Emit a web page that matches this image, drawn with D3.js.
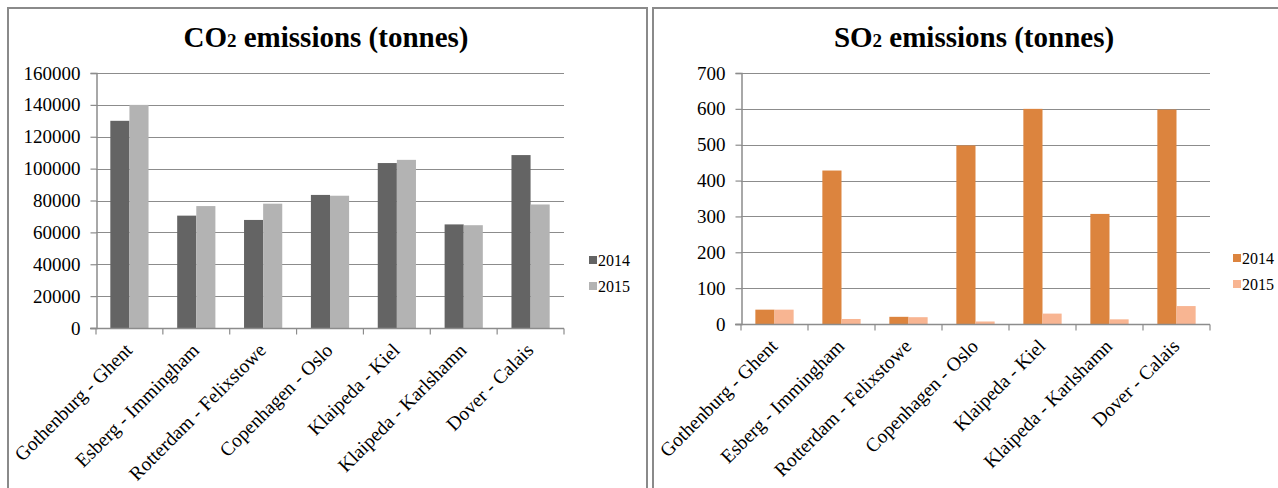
<!DOCTYPE html>
<html>
<head>
<meta charset="utf-8">
<script src="https://cdn.jsdelivr.net/npm/d3@7/dist/d3.min.js"></script>
<style>
  html, body { margin: 0; padding: 0; background: #ffffff; }
  svg { display: block; }
  text { font-family: "Liberation Serif", "Times New Roman", serif; fill: #000; }
</style>
</head>
<body>
<svg id="chart" width="1278" height="488"></svg>
<script>
// Ferry routes shown on both charts
const routes = [
  "Gothenburg - Ghent",
  "Esberg - Immingham",
  "Rotterdam - Felixstowe",
  "Copenhagen - Oslo",
  "Klaipeda - Kiel",
  "Klaipeda - Karlshamn",
  "Dover - Calais"
];
const years = ["2014", "2015"];

// CO2 emissions per route (tonnes)
const co2_2014 = [130000, 70500, 67800, 83500, 103500, 65000, 108500];
const co2_2015 = [140000, 76500, 78000, 83000, 105500, 64500, 77500];
const co2Ticks = [0, 20000, 40000, 60000, 80000, 100000, 120000, 140000, 160000];

// SO2 emissions per route (tonnes)
const so2_2014 = [40, 428, 20, 498, 600, 307, 598];
const so2_2015 = [40, 14, 19, 7, 29, 13, 50];
const so2Ticks = [0, 100, 200, 300, 400, 500, 600, 700];

const svg = d3.select("#chart");
const axisGrey = "#8c8c8c";

function drawPanel(opt) {
  const g = svg.append("g");

  // panel frame (runs off the bottom of the page)
  g.append("path")
    .attr("d", `M${opt.frameX0},${opt.frameY + 600}V${opt.frameY}H${opt.frameX1}V${opt.frameY + 600}`)
    .attr("fill", "none")
    .attr("stroke", "#8a8a8a")
    .attr("stroke-width", 2);

  // title with subscript digit
  const title = g.append("text")
    .attr("x", opt.titleX)
    .attr("y", 47)
    .attr("text-anchor", "middle")
    .style("font-size", "29px")
    .style("font-weight", "bold");
  title.append("tspan").text(opt.gas);
  title.append("tspan").style("font-size", "19px").text("2");
  title.append("tspan").text(" emissions (tonnes)");

  const x0 = d3.scaleBand().domain(routes).range([opt.left, opt.right]).paddingInner(0).paddingOuter(0);
  const x1 = d3.scaleBand().domain(years).range([0, x0.bandwidth()]).paddingOuter(0.75).paddingInner(0);
  const y = d3.scaleLinear().domain([0, opt.max]).range([opt.bottom, opt.top]);

  // horizontal gridlines
  g.append("g")
    .selectAll("line")
    .data(opt.ticks.slice(1))
    .join("line")
    .attr("x1", opt.left)
    .attr("x2", opt.right)
    .attr("y1", d => Math.round(y(d)) + 0.5)
    .attr("y2", d => Math.round(y(d)) + 0.5)
    .attr("stroke", axisGrey)
    .attr("stroke-width", 1.2);

  // bars
  const series = years.map((yr, i) => ({ yr, values: opt.series[i], color: opt.colors[i] }));
  g.append("g")
    .selectAll("g")
    .data(series)
    .join("g")
    .attr("fill", d => d.color)
    .selectAll("rect")
    .data(d => d.values.map((v, j) => ({ yr: d.yr, route: routes[j], v })))
    .join("rect")
    .attr("x", d => x0(d.route) + x1(d.yr))
    .attr("width", x1.bandwidth())
    .attr("y", d => y(d.v))
    .attr("height", d => y(0) - y(d.v));

  // y axis
  const yAxis = d3.axisLeft(y).tickValues(opt.ticks).tickSize(6).tickPadding(10).tickFormat(d3.format("d"));
  const ya = g.append("g").attr("transform", `translate(${opt.left + 0.5},0)`).call(yAxis);
  ya.attr("font-family", null).attr("font-size", null);
  ya.select(".domain").attr("stroke", axisGrey).attr("stroke-width", 1.5);
  ya.selectAll(".tick line").attr("stroke", axisGrey).attr("stroke-width", 1.2);
  ya.selectAll(".tick text")
    .style("font-family", "'Liberation Serif', 'Times New Roman', serif")
    .style("font-size", "19px")
    .attr("fill", "#000");

  // category axis: tick marks at band boundaries
  const xa = g.append("g").attr("transform", `translate(0,${opt.bottom + 0.5})`);
  xa.append("line")
    .attr("x1", opt.left - 6).attr("x2", opt.right)
    .attr("stroke", axisGrey).attr("stroke-width", 1.5);
  const bounds = routes.map(r => x0(r)).concat([opt.right]);
  xa.selectAll("line.tk")
    .data(bounds)
    .join("line")
    .attr("class", "tk")
    .attr("x1", d => d).attr("x2", d => d)
    .attr("y1", 0).attr("y2", 6)
    .attr("stroke", axisGrey).attr("stroke-width", 1.2);
  xa.selectAll("text")
    .data(routes)
    .join("text")
    .attr("transform", d => `translate(${x0(d) + x0.bandwidth() / 2 + 4},${23}) rotate(-45)`)
    .attr("text-anchor", "end")
    .style("font-size", "19.5px")
    .text(d => d);

  // legend
  const lg = g.append("g").attr("transform", `translate(${opt.legendX},${opt.legendY})`);
  const items = lg.selectAll("g").data(series).join("g")
    .attr("transform", (d, i) => `translate(0,${i * 26})`);
  items.append("rect").attr("x", 0).attr("y", -10).attr("width", 8).attr("height", 8).attr("fill", d => d.color);
  items.append("text").attr("x", 9).attr("y", 0).style("font-size", "16px").text(d => d.yr);
}

drawPanel({
  gas: "CO",
  frameX0: 8, frameX1: 647, frameY: 8,
  titleX: 326,
  left: 96, right: 564, top: 73, bottom: 328,
  max: 160000, ticks: co2Ticks,
  series: [co2_2014, co2_2015],
  colors: ["#646464", "#b3b3b3"],
  legendX: 589, legendY: 266
});

drawPanel({
  gas: "SO",
  frameX0: 653, frameX1: 1290, frameY: 8,
  titleX: 974,
  left: 741, right: 1210, top: 73, bottom: 324,
  max: 700, ticks: so2Ticks,
  series: [so2_2014, so2_2015],
  colors: ["#dc843e", "#f8b592"],
  legendX: 1233, legendY: 264
});
</script>
</body>
</html>
